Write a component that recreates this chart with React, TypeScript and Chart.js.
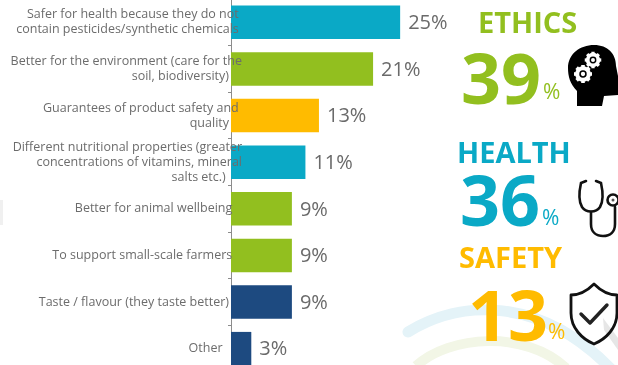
import React, { useEffect, useRef } from "react";
import { Chart, registerables } from "chart.js";

Chart.register(...registerables);

const categories: (string | string[])[] = [
  ["Safer for health because they do not", "contain pesticides/synthetic chemicals"],
  ["Better for the environment (care for the", "soil, biodiversity)"],
  ["Guarantees of product safety and", "quality"],
  ["Different nutritional properties (greater", "concentrations of vitamins, mineral", "salts etc.)"],
  "Better for animal wellbeing",
  "To support small-scale farmers",
  "Taste / flavour (they taste better)",
  "Other",
];
const shares = [25, 21, 13, 11, 9, 9, 9, 3];

const TEAL = "#0aa9c6";
const GREEN = "#92bf1f";
const AMBER = "#ffbb00";
const NAVY = "#1d4a80";
const barColors = [TEAL, GREEN, AMBER, TEAL, GREEN, GREEN, NAVY, NAVY];

// Hand-tuned right indents of each label line, counted in trailing spaces.
const lineIndents = [[1, 1], [0, 4], [1, 4], [0, 0, 5], [3], [3], [4], [6]];

const panelTitles = ["ETHICS", "HEALTH", "SAFETY"];
const panelValues = ["39", "36", "13"];
const panelColors = [GREEN, TEAL, AMBER];
const titleSpots = [[478, 2], [457, 132], [459, 237]];
const numberSpots = [[461, 27], [460, 149], [468, 264]];
const percentSpots = [[543, 76], [542, 202], [548, 316]];

const FONT = '"Open Sans", sans-serif';

const indented = (index: number) => {
  const raw = categories[index];
  const lines = Array.isArray(raw) ? raw : [raw];
  return lines.map((line, n) => line + "\u00a0".repeat(lineIndents[index][n]));
};

const valueLabels = {
  id: "valueLabels",
  afterDatasetsDraw(chart: Chart) {
    const { ctx } = chart;
    ctx.save();
    ctx.font = `20px ${FONT}`;
    ctx.fillStyle = "#6a6a6a";
    ctx.textBaseline = "middle";
    ctx.textAlign = "left";
    chart.getDatasetMeta(0).data.forEach((bar, i) => {
      ctx.fillText(`${shares[i]}%`, bar.x + 8, bar.y + 1);
    });
    ctx.restore();
  },
};

function Backdrop() {
  return (
    <svg width={618} height={365} style={{ position: "absolute", left: 0, top: 0 }}>
      <rect x={0} y={200} width={3} height={25} fill="#f0f0f0" />
      <path d="M408 332 C 460 300, 540 295, 612 370" fill="none" stroke="#e4f3f8" strokeWidth={11} strokeLinecap="round" />
      <path d="M416 366 C 450 335, 525 330, 566 368" fill="none" stroke="#f2f6e6" strokeWidth={10} />
      <path d="M603 318 L 618 338 L 618 350 L 604 330 Z" fill="#e6e6e6" />
    </svg>
  );
}

function Icons() {
  const gear = (cx: number, cy: number, r: number) => (
    <g>
      <circle cx={cx} cy={cy} r={r} fill="none" stroke="#fff" strokeWidth={r * 0.62} />
      {[0, 45, 90, 135].map((a) => (
        <rect
          key={a}
          x={cx - r * 0.3}
          y={cy - r * 1.5}
          width={r * 0.6}
          height={r * 3}
          fill="#fff"
          transform={`rotate(${a} ${cx} ${cy})`}
        />
      ))}
      <circle cx={cx} cy={cy} r={r * 0.62} fill="#000" />
      <circle cx={cx} cy={cy} r={r * 0.36} fill="#fff" />
    </g>
  );
  return (
    <svg width={618} height={365} style={{ position: "absolute", left: 0, top: 0 }}>
      <path
        d="M577 106 L577 91 C570 84 568 76 568 68 C568 54 580 45 594 45 C608 45 616 54 616 66 L618 76 L618 95 L604 96 L602 106 Z"
        fill="#000"
      />
      {gear(593, 60, 5.5)}
      {gear(583, 74, 6)}
      <g fill="none" stroke="#111" strokeWidth={2.6} strokeLinecap="round">
        <path d="M586 181 L581 183 C579 192 579 202 582 207 C586 213 596 213 600 207 C603 202 603 192 601 183 L596 181" />
        <path d="M591 212 L591 224 C591 233 597 236 603 236 C610 236 615 232 615 224 L615 207" />
      </g>
      <circle cx={613} cy={200} r={5.5} fill="none" stroke="#111" strokeWidth={2.6} />
      <circle cx={613} cy={200} r={1.5} fill="#555" />
      <path
        d="M594 284 C586 292 578 295 571 295 L571 313 C571 328 582 339 594 344 C606 339 617 328 617 313 L617 295 C610 295 602 292 594 284 Z"
        fill="none"
        stroke="#111"
        strokeWidth={2.8}
        strokeLinejoin="round"
      />
      <path d="M581 314 L590 323 L607 305" fill="none" stroke="#222" strokeWidth={3.4} strokeLinecap="round" strokeLinejoin="round" />
    </svg>
  );
}

export default function App() {
  const canvasRef = useRef<HTMLCanvasElement>(null);

  useEffect(() => {
    const chart = new Chart(canvasRef.current!, {
      type: "bar",
      data: {
        labels: categories,
        datasets: [
          {
            data: shares,
            backgroundColor: barColors,
            barPercentage: 0.72,
            categoryPercentage: 1,
          },
        ],
      },
      plugins: [valueLabels],
      options: {
        indexAxis: "y",
        responsive: false,
        maintainAspectRatio: false,
        animation: false,
        layout: { padding: 0 },
        plugins: { legend: { display: false }, tooltip: { enabled: false } },
        scales: {
          x: { display: false, min: 0, max: 57.2 },
          y: {
            afterFit(scale: any) {
              scale.width = 231;
              // Category labels run past the axis line, so they must not be clipped to the scale box.
              scale._computeLabelArea = () => undefined;
            },
            border: { color: "#8c8c8c", width: 1 },
            grid: { drawOnChartArea: false, drawTicks: true, tickLength: 3, color: "#8c8c8c" },
            ticks: {
              z: 1,
              padding: -14,
              autoSkip: false,
              font: { family: "Open Sans", size: 12.5 },
              color: "#6c6c6c",
              callback: (_value: unknown, index: number) => indented(index),
            },
          },
        },
      },
    });
    return () => chart.destroy();
  }, []);

  return (
    <div style={{ position: "absolute", left: 0, top: 0, width: 618, height: 365, overflow: "hidden", background: "#fff" }}>
      <Backdrop />
      <canvas ref={canvasRef} width={618} height={374} style={{ position: "absolute", left: 0, top: -1 }} />
      {panelTitles.map((t, i) => (
        <div
          key={t}
          style={{
            position: "absolute",
            left: titleSpots[i][0],
            top: titleSpots[i][1],
            font: `700 29px/40px ${FONT}`,
            color: panelColors[i],
            whiteSpace: "nowrap",
          }}
        >
          {t}
        </div>
      ))}
      {panelValues.map((v, i) => (
        <div
          key={v}
          style={{
            position: "absolute",
            left: numberSpots[i][0],
            top: numberSpots[i][1],
            font: `700 70px/100px ${FONT}`,
            color: panelColors[i],
          }}
        >
          {v}
        </div>
      ))}
      {panelValues.map((v, i) => (
        <div
          key={`pct-${v}`}
          style={{
            position: "absolute",
            left: percentSpots[i][0],
            top: percentSpots[i][1],
            font: `400 21px/30px ${FONT}`,
            color: panelColors[i],
          }}
        >
          %
        </div>
      ))}
      <Icons />
    </div>
  );
}
